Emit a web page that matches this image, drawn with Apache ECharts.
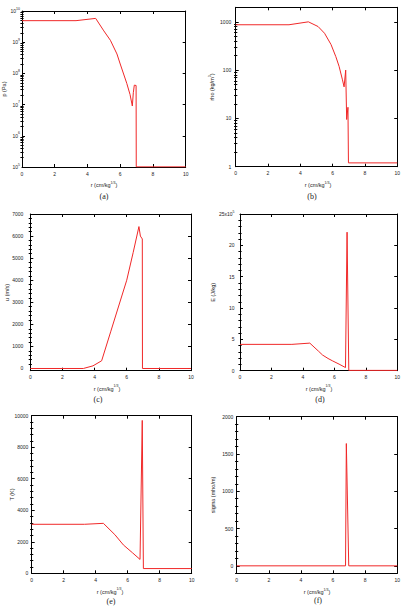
<!DOCTYPE html>
<html><head><meta charset="utf-8">
<script src="https://cdn.jsdelivr.net/npm/echarts@6/dist/echarts.min.js"></script>
<style>html,body{margin:0;padding:0;background:#fff}#c{width:403px;height:609px}</style>
</head><body><div id="c"></div>
<script>
// ---- data ----
const xTicks = [0, 2, 4, 6, 8, 10];

const rP = [0, 3.3, 4.5, 5.0, 5.4, 5.8, 6.0, 6.4, 6.6, 6.74, 6.8, 6.86, 6.97, 6.98, 10];
const pVals = [4.9e9, 4.9e9, 5.8e9, 2.3e9, 1.15e9, 4.2e8, 2.0e8, 4.8e7, 2.1e7, 9e6, 2.4e7, 4.2e7, 4.1e7, 1.01e5, 1.01e5];
const pTicks = [1e5, 1e6, 1e7, 1e8, 1e9, 1e10];

const rRho = [0, 3.3, 4.5, 5.1, 5.5, 5.9, 6.2, 6.4, 6.6, 6.71, 6.81, 6.87, 6.95, 6.98, 10];
const rhoVals = [870, 870, 1000, 800, 580, 340, 190, 120, 65, 45, 100, 9.5, 17, 1.2, 1.2];
const rhoTicks = [1, 10, 100, 1000];

const rU = [0, 3.3, 3.9, 4.44, 5.0, 5.5, 6.0, 6.4, 6.76, 6.85, 6.97, 6.98, 10];
const uVals = [0, 0, 120, 350, 1660, 2830, 4000, 5250, 6430, 6000, 5870, 0, 0];
const uTicks = [0, 1000, 2000, 3000, 4000, 5000, 6000, 7000];

const rE = [0, 3.3, 4.44, 5.0, 5.25, 5.6, 5.9, 6.3, 6.71, 6.81, 6.92, 10];
const eVals = [4.2, 4.2, 4.4, 3.1, 2.5, 1.95, 1.55, 1.05, 0.5, 22.1, 0.05, 0.05];
const eTicks = [0, 5, 10, 15, 20, 25];

const rT = [0, 3.3, 4.48, 5.2, 5.73, 6.3, 6.77, 6.91, 6.98, 10];
const tVals = [3110, 3110, 3170, 2450, 1800, 1300, 880, 9700, 300, 300];
const tTicks = [0, 2000, 4000, 6000, 8000, 10000];

const rS = [0, 6.78, 6.83, 6.98, 10];
const sVals = [0, 0, 1640, 0, 0];
const sTicks = [0, 500, 1000, 1500, 2000];

// ---- layout / style ----
const FONT = 'Liberation Sans';
const LINE = '#f02828';
const INK = '#222';
const panels = [
  {L:22, T:11, R:185.7, B:167, x:rP, y:pVals, log:true, min:1e5, max:1e10, ticks:pTicks, fmt:'pow', lm:2,
   yt:'{a|p (Pa)}', ytx:4, xtx:104, xty:185, cap:'(a)', cx:104, cy:196.5},
  {L:235.7, T:7.3, R:401, B:166.7, x:rRho, y:rhoVals, log:true, min:1, max:2000, ticks:rhoTicks, fmt:'plain', lm:4.5,
   yt:'{a|rho (kg/m}{s|3}{a|)}', ytx:212, xtx:318, xty:185, cap:'(b)', cx:312, cy:196.5},
  {L:30.3, T:214, R:191, B:370.7, x:rU, y:uVals, log:false, min:-100, max:7000, ticks:uTicks, minor:200, lm:7,
   yt:'{a|u (m/s)}', ytx:7, xtx:107, xty:388.5, cap:'(c)', cx:98, cy:399},
  {L:240, T:214, R:399, B:370.7, x:rE, y:eVals, log:false, min:0, max:25, ticks:eTicks, minor:1, lm:5.5, fmt:'e5',
   yt:'{a|E (J/kg)}', ytx:213, xtx:319, xty:388.5, cap:'(d)', cx:320, cy:399},
  {L:31.7, T:415.7, R:191.7, B:573.3, x:rT, y:tVals, log:false, min:0, max:10000, ticks:tTicks, minor:400, lm:3.3,
   yt:'{a|T (K)}', ytx:11.5, xtx:110, xty:591.5, cap:'(e)', cx:111, cy:601},
  {L:236.7, T:416.7, R:397.7, B:573.3, x:rS, y:sVals, log:false, min:-100, max:2000, ticks:sTicks, minor:100, lm:3.4,
   yt:'{a|sigma (mho/m)}', ytx:212.5, xtx:317, xty:592, cap:'(f)', cx:318, cy:600}
];

const grids = [], xAxes = [], yAxes = [], series = [], graphics = [];
const lineStyle = {color: '#000', width: 1};
const tickLab = {fontFamily: FONT, fontSize: 5, color: INK};
const supRich = {s: {fontFamily: FONT, fontSize: 3.5, lineHeight: 3.5, verticalAlign: 'top', color: INK}};

function minorList(min, max, step, majors) {
  const out = [];
  for (let v = Math.ceil(min / step) * step; v <= max + 1e-9; v += step) {
    const vv = Math.round(v * 1000) / 1000;
    if (!majors.some(m => Math.abs(m - vv) < 1e-9)) out.push(vv);
  }
  return out;
}
function logMinorList(min, max) {
  const out = [];
  for (let e = Math.floor(Math.log10(min)); e <= Math.ceil(Math.log10(max)); e++) {
    for (let k = 2; k <= 9; k++) {
      const v = k * Math.pow(10, e);
      if (v > min && v < max) out.push(Math.log10(v));
    }
  }
  return out;
}

panels.forEach((p, i) => {
  grids.push({left: p.L, top: p.T, width: p.R - p.L, height: p.B - p.T, containLabel: false});
  const xi = xAxes.length;
  ['bottom', 'top'].forEach((pos, k) => {
    xAxes.push({
      gridIndex: i, type: 'value', min: 0, max: 10, position: pos,
      axisLine: {show: true, onZero: false, lineStyle},
      axisTick: {show: true, inside: true, length: 3, customValues: xTicks, lineStyle},
      axisLabel: {show: k === 0, customValues: xTicks, margin: 4, formatter: v => String(v), ...tickLab},
      splitLine: {show: false}
    });
  });
  const yi = yAxes.length;
  ['left', 'right'].forEach((pos, k) => {
    const ax = {
      gridIndex: i, position: pos, min: p.min, max: p.max,
      axisLine: {show: true, onZero: false, lineStyle},
      axisTick: {show: true, inside: true, length: 3, lineStyle},
      axisLabel: {show: k === 0, margin: p.lm, hideOverlap: false, ...tickLab, lineHeight: 9, rich: supRich},
      splitLine: {show: false}
    };
    if (p.log) {
      ax.type = 'log'; ax.logBase = 10;
      ax.axisLabel.formatter = v => {
        const e = Math.log10(v);
        if (Math.abs(e - Math.round(e)) > 1e-6) return '';
        return p.fmt === 'pow' ? '10{s|' + Math.round(e) + '}' : String(Math.round(v));
      };
    } else {
      ax.type = 'value';
      ax.axisTick.customValues = p.ticks;
      ax.axisLabel.customValues = p.ticks;
      ax.axisLabel.formatter = p.fmt === 'e5'
        ? (v => v === 25 ? '25x10{s|5}' : String(v))
        : (v => String(v));
    }
    yAxes.push(ax);
  });
  const mMin = p.log ? Math.log10(p.min) : p.min;
  const mMax = p.log ? Math.log10(p.max) : p.max;
  const mVals = p.log ? logMinorList(p.min, p.max) : minorList(p.min, p.max, p.minor, p.ticks);
  ['left', 'right'].forEach(pos => {
    yAxes.push({
      gridIndex: i, type: 'value', position: pos, min: mMin, max: mMax,
      axisLine: {show: false},
      axisTick: {show: true, inside: true, length: 1.6, customValues: mVals, lineStyle},
      axisLabel: {show: false}, splitLine: {show: false}
    });
  });
  series.push({
    type: 'line', xAxisIndex: xi, yAxisIndex: yi, showSymbol: false, symbol: 'none',
    data: p.x.map((r, j) => [r, p.y[j]]),
    lineStyle: {color: LINE, width: 1}, clip: true, silent: true
  });
  const cy = (p.T + p.B) / 2;
  graphics.push({
    type: 'text', x: p.ytx, y: cy, rotation: Math.PI / 2,
    style: {text: p.yt, align: 'center', verticalAlign: 'middle',
      rich: {a: {fontFamily: FONT, fontSize: 5.5, lineHeight: 9, fill: INK},
             s: {fontFamily: FONT, fontSize: 3.5, lineHeight: 3.5, verticalAlign: 'top', fill: INK}}}
  });
  graphics.push({
    type: 'text', x: p.xtx, y: p.xty,
    style: {text: '{a|r (cm/kg}{s|1/3}{a|)}', align: 'center', verticalAlign: 'middle',
      rich: {a: {fontFamily: FONT, fontSize: 5.5, lineHeight: 9, fill: INK},
             s: {fontFamily: FONT, fontSize: 3.5, lineHeight: 3.5, verticalAlign: 'top', fill: INK}}}
  });
  graphics.push({
    type: 'text', x: p.cx, y: p.cy,
    style: {text: p.cap, align: 'center', verticalAlign: 'middle',
      fontFamily: 'Liberation Serif', fontSize: 8, fill: INK}
  });
});

const chart = echarts.init(document.getElementById('c'), null, {renderer: 'svg'});
chart.setOption({
  animation: false,
  backgroundColor: '#fff',
  grid: grids, xAxis: xAxes, yAxis: yAxes, series: series,
  graphic: graphics
});
</script></body></html>
